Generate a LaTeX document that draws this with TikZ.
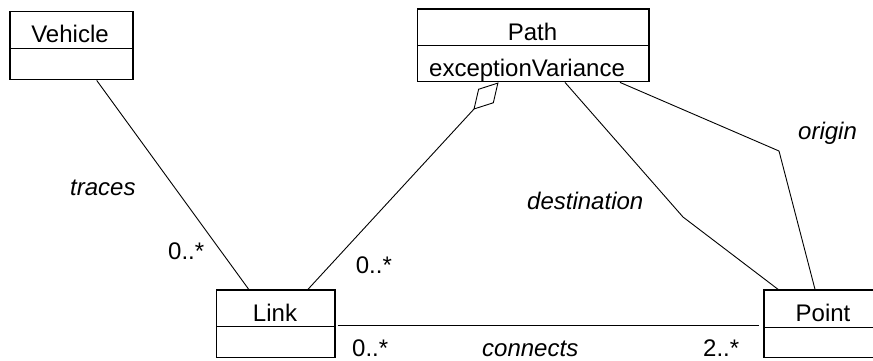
\documentclass[tikz,border=0pt]{standalone}
\usepackage{fontspec}
\setmainfont{Liberation Sans}
\usetikzlibrary{arrows.meta,calc}

\begin{document}
\begin{tikzpicture}[x=1pt,y=-1pt,
  every node/.style={font=\fontsize{24}{28}\selectfont},
  compartment/.style n args={2}{draw, line width=1.4pt, inner sep=0pt,
    anchor=north west, minimum width=#1, minimum height=#2},
  title/.style={anchor=base, inner sep=0pt},
  lbl/.style={anchor=base west, inner sep=0pt},
  role/.style={lbl, font=\fontsize{24}{28}\selectfont\itshape},
  assoc/.style={line width=0.9pt},
]
\useasboundingbox (0,0) rectangle (873,360);

% class boxes: name compartment + attribute compartment
\node[compartment={123pt}{37pt}]    (vehicle)      at (9.3,10.7) {};
\node[compartment={123pt}{31.3pt}]  (vehicle-attr) at (9.3,47.7) {};
\node[title] (vehicle-name) at (70,42) {Vehicle};

\node[compartment={231.6pt}{36.7pt}] (path)      at (416.7,8.3) {};
\node[compartment={231.6pt}{36pt}]   (path-attr) at (416.7,45) {};
\node[title] (path-name) at (532.5,40) {Path};
\node[lbl]   (path-var)  at (429,76) {exceptionVariance};

\node[compartment={118.6pt}{36.7pt}] (link)      at (215.7,289.3) {};
\node[compartment={118.6pt}{30.7pt}] (link-attr) at (215.7,326) {};
\node[title] (link-name) at (275,321.7) {Link};

\node[compartment={119.7pt}{37.7pt}] (point)      at (763.3,289.3) {};
\node[compartment={119.7pt}{29.7pt}] (point-attr) at (763.3,327) {};
\node[title] (point-name) at (823,321.7) {Point};

% bends of the two Path--Point associations
\coordinate (dest-bend) at (683,217);
\coordinate (orig-bend) at (779,151);

% associations
\draw[assoc] ([xshift=87.4pt]vehicle-attr.south west) -- ([xshift=33pt]link.north west);
\draw[assoc, -{Diamond[open, length=37pt, width=21pt, line width=0.9pt]}]
  ([xshift=92.3pt]link.north west) -- ([xshift=81.8pt]path-attr.south west);
\draw[assoc] ([xshift=148.3pt]path-attr.south west) -- (dest-bend) -- ([xshift=14.7pt]point.north west);
\draw[assoc] ([xshift=203.3pt]path-attr.south west) -- (orig-bend) -- ([xshift=51.7pt]point.north west);
\draw[assoc] ([xshift=2pt,yshift=2pt]link.south east) -- ([xshift=-4pt,yshift=3pt]point.south west);

% role names and multiplicities
\node[role] (traces)      at (70,195)    {traces};
\node[lbl]  (m-traces)    at (168,259)   {0..*};
\node[lbl]  (m-agg)       at (355.7,273) {0..*};
\node[role] (destination) at (527,209)   {destination};
\node[role] (origin)      at (798,139)   {origin};
\node[lbl]  (m-link)      at (352,356)   {0..*};
\node[role] (connects)    at (482,356)   {connects};
\node[lbl]  (m-point)     at (703,356)   {2..*};
\end{tikzpicture}
\end{document}
